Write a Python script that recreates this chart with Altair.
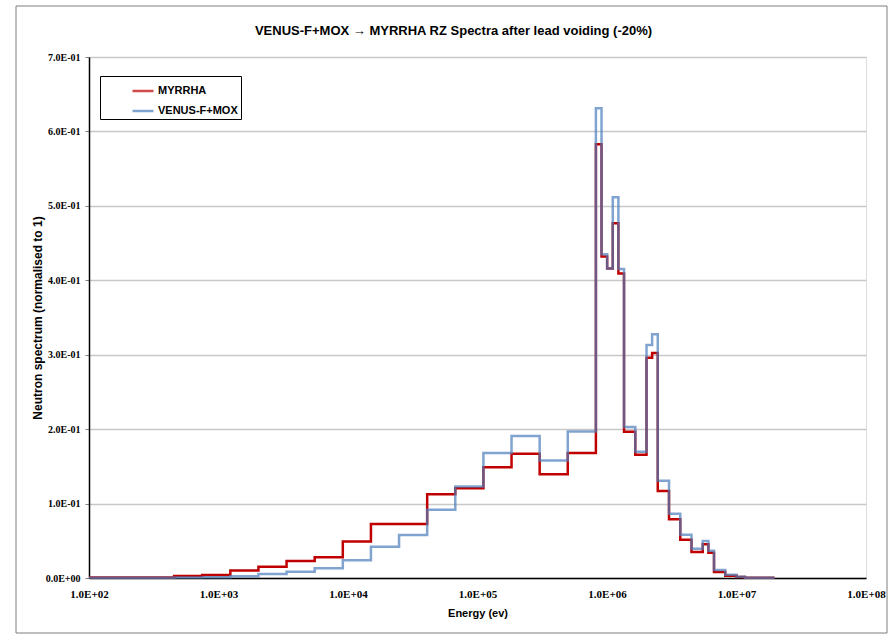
import altair as alt
import pandas as pd

# Energy group boundaries (eV)
edges = [1.0e2, 4.54e2, 7.4852e2, 1.2341e3, 2.0347e3, 3.3546e3, 5.5308e3, 9.1188e3,
         1.5034e4, 2.4788e4, 4.0868e4, 6.7379e4, 1.1109e5, 1.8316e5, 3.0197e5, 4.9787e5,
         8.2085e5, 9.0718e5, 1.0026e6, 1.1080e6, 1.2246e6, 1.3534e6, 1.6530e6, 2.0190e6,
         2.2313e6, 2.4660e6, 3.0119e6, 3.6788e6, 4.4933e6, 5.4881e6, 6.0653e6, 6.7032e6,
         8.1873e6, 1.0e7, 1.1618e7, 1.9640e7]

myrrha = [0.0008, 0.0027, 0.004, 0.010, 0.015, 0.023, 0.028, 0.049,
          0.0725, 0.0725, 0.1124, 0.1205, 0.1487, 0.167, 0.1393, 0.168,
          0.5827, 0.432, 0.416, 0.4766, 0.409, 0.1966, 0.1657, 0.296,
          0.3023, 0.1169, 0.0788, 0.0515, 0.0349, 0.0453, 0.034, 0.008,
          0.003, 0.0015, 0.0005]

venus = [0.0005, 0.0007, 0.001, 0.0022, 0.0054, 0.0085, 0.013, 0.0237,
         0.042, 0.0578, 0.0918, 0.123, 0.168, 0.1908, 0.158, 0.197,
         0.631, 0.435, 0.416, 0.5115, 0.415, 0.2029, 0.1697, 0.313,
         0.3274, 0.1308, 0.0864, 0.0582, 0.0394, 0.0497, 0.0367, 0.0107,
         0.0045, 0.0018, 0.0005]

series_names = ["MYRRHA", "VENUS-F+MOX"]
series_colors = ["#c00000", "#4a7ebb"]
x_ticks = [1e2, 1e3, 1e4, 1e5, 1e6, 1e7, 1e8]
y_ticks = [0.0, 0.1, 0.2, 0.3, 0.4, 0.5, 0.6, 0.7]

SANS = "Liberation Sans Narrow, Liberation Sans, Arial"
SERIF = "Liberation Serif, Times New Roman, serif"


def steps(name, vals):
    rows = [{"series": name, "energy": e, "value": v, "order": i}
            for i, (e, v) in enumerate(zip(edges[:-1], vals))]
    rows.append({"series": name, "energy": edges[-1], "value": vals[-1], "order": len(vals)})
    return pd.DataFrame(rows)


df_m = steps(series_names[0], myrrha)
df_v = steps(series_names[1], venus)

color = alt.Color(
    "series:N",
    scale=alt.Scale(domain=series_names, range=series_colors),
    legend=alt.Legend(
        title=None, orient="none", legendX=11, legendY=19,
        strokeColor="black", fillColor="white", padding=3,
        symbolType="stroke", symbolSize=441, symbolStrokeWidth=2.5,
        symbolOffset=28, labelOffset=3, rowPadding=3,
        labelFont=SANS, labelFontSize=11, labelFontWeight="bold",
        labelColor="black",
    ),
)

x = alt.X(
    "energy:Q",
    scale=alt.Scale(type="log", domain=[1e2, 1e8], nice=False),
    axis=alt.Axis(
        title="Energy (ev)", values=x_ticks, grid=False, ticks=False,
        labelExpr="'1.0E+0' + format(log(datum.value)/LN10, '.0f')",
        labelFlush=False,
        labelFont=SERIF, labelFontSize=11, labelFontWeight="bold", labelColor="black",
        labelPadding=10, domainColor="black", domainWidth=1.5,
        titleFont=SANS, titleFontSize=11, titleFontWeight="bold", titleColor="black",
        titlePadding=8,
    ),
)

y = alt.Y(
    "value:Q",
    scale=alt.Scale(domain=[0, 0.7], nice=False),
    axis=alt.Axis(
        title="Neutron spectrum (normalised to 1)", values=y_ticks,
        labelExpr="datum.value == 0 ? '0.0E+00' : format(datum.value*10, '.1f') + 'E-01'",
        labelFont=SERIF, labelFontSize=10, labelFontWeight="bold", labelColor="black",
        labelPadding=5, tickSize=4, tickColor="#808080",
        gridColor="#c8c8c8", gridWidth=1.5,
        domainColor="black", domainWidth=1.5,
        titleFont="Liberation Sans, Arial", titleFontSize=12, titleFontWeight="bold",
        titleColor="black", titlePadding=1,
    ),
)

# decorative outer frame around the chart (not data)
frame = alt.Chart(pd.DataFrame({"f": [0]})).mark_rect(
    fill=None, stroke="#7f7f7f", strokeWidth=1
).encode(
    x=alt.value(-73), x2=alt.value(798), y=alt.value(-51), y2=alt.value(576)
)

red = alt.Chart(df_m).mark_line(interpolate="step-after", strokeWidth=2.5).encode(
    x=x, y=y, color=color, order="order:Q"
)
blue = alt.Chart(df_v).mark_line(interpolate="step-after", strokeWidth=2.5, opacity=0.7).encode(
    x=x, y=y, color=color, order="order:Q"
)

chart = alt.layer(frame, red, blue).properties(
    width=777,
    height=521,
    title=alt.TitleParams(
        text="VENUS-F+MOX \u2192 MYRRHA  RZ Spectra after lead voiding (-20%)",
        font=SANS, fontSize=13, fontWeight="bold", color="black",
        anchor="middle", dx=-24, offset=-32,
    ),
    padding={"left": 89, "top": 57, "right": 26, "bottom": 60},
    autosize=alt.AutoSizeParams(type="none"),
).configure_view(stroke=None).configure(background="white")

chart.save("out.html", embed_options={"renderer": "svg", "actions": False})
